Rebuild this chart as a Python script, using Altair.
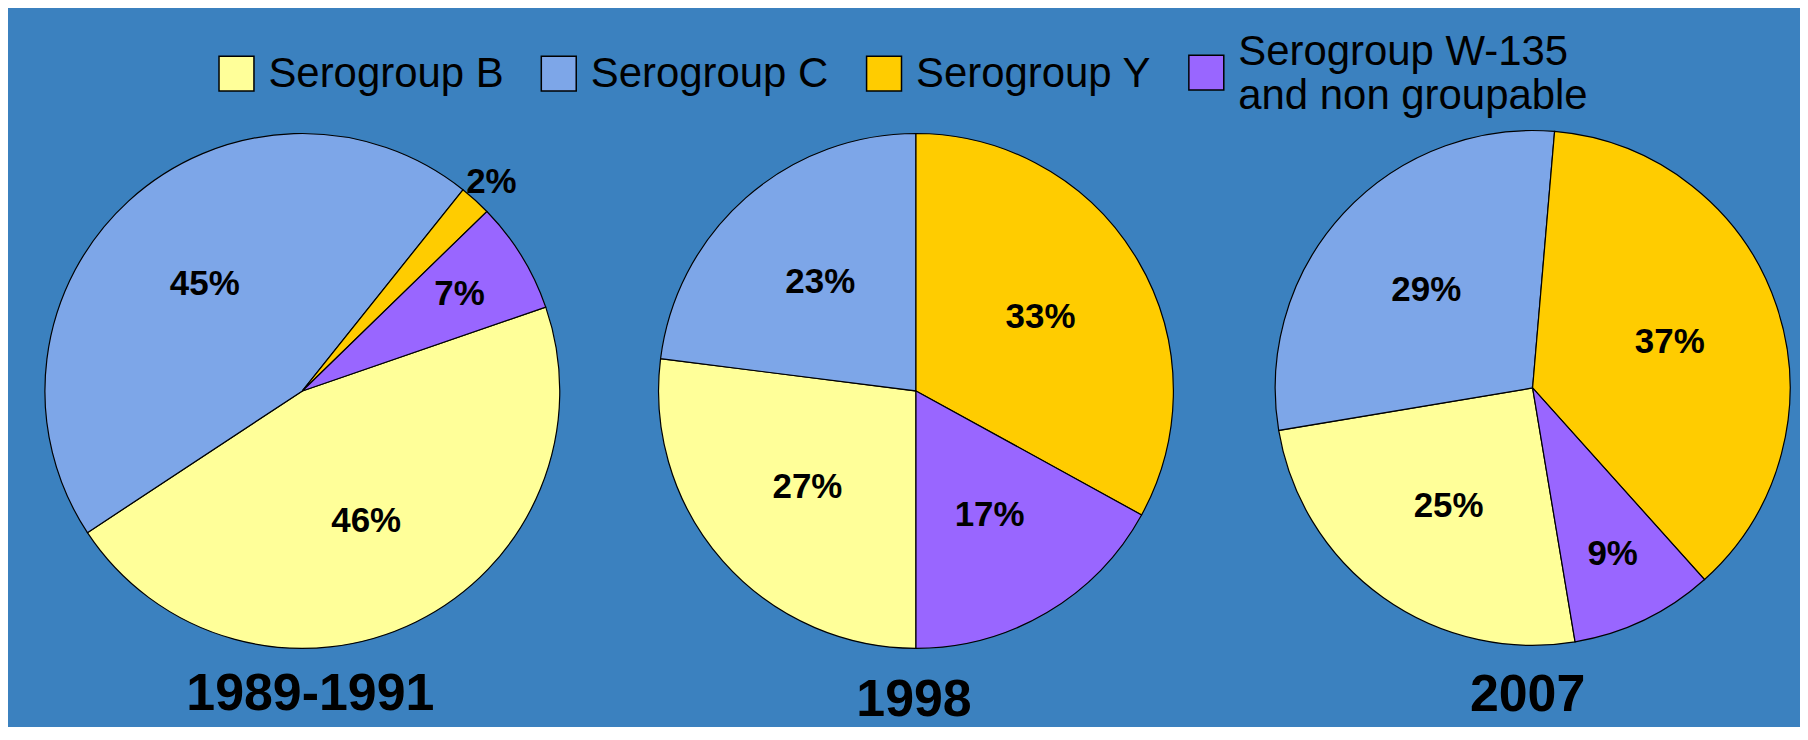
import math
import altair as alt
import pandas as pd

periods = ["1989-1991", "1998", "2007"]
groups = ["Serogroup B", "Serogroup C", "Serogroup Y", "Serogroup W-135|and non groupable"]
pct_1989_1991 = [46, 45, 2, 7]
pct_1998 = [27, 23, 33, 17]
pct_2007 = [25, 29, 37, 9]
colors = ["#FFFF99", "#7DA6E8", "#FFCC00", "#9966FF"]

rows = []
for p, vals in zip(periods, [pct_1989_1991, pct_1998, pct_2007]):
    for i, (g, v) in enumerate(zip(groups, vals)):
        rows.append({"period": p, "group": g, "pct": v, "order": i, "label": f"{v}%"})
df = pd.DataFrame(rows)

FONT = "Liberation Sans"
R = 258
PANEL_W, PANEL_H = 588, 712
# layout: (pie centre x, pie centre y, start angle deg, title x, title y)
layout = [
    (295, 383, 71.0, 303, 687),
    (308, 383, 180.0, 306, 693),
    (324, 380, 170.5, 319, 688),
]

# legend swatches: plain square, and a square moved down to sit beside a two-line label
SQ = "M-1,-1H1V1H-1Z"
SQ_LOW = "M-1,0.2H1V2.2H-1Z"

color_scale = alt.Scale(domain=groups, range=colors)
shape_scale = alt.Scale(domain=groups, range=[SQ, SQ, SQ, SQ_LOW])
stroke_scale = alt.Scale(domain=groups, range=["black"] * len(groups))
legend = alt.Legend(title=None, labelExpr="split(datum.label, '|')")


def panel(idx):
    p = periods[idx]
    cx, cy, a_deg, tx, ty = layout[idx]
    a0 = math.radians(a_deg)
    src = alt.Chart(df).transform_filter(alt.datum.period == p)
    # legend source, hidden under the pie
    swatch = src.mark_point(filled=True, size=1225, opacity=1, strokeWidth=1.5).encode(
        x=alt.value(cx), y=alt.value(cy),
        color=alt.Color("group:N", scale=color_scale, legend=legend),
        shape=alt.Shape("group:N", scale=shape_scale, legend=legend),
        stroke=alt.Stroke("group:N", scale=stroke_scale, legend=legend),
    )
    base = src.encode(
        theta=alt.Theta("pct:Q", stack=True, scale=alt.Scale(range=[a0, a0 + 2 * math.pi])),
        order=alt.Order("order:Q"),
        x=alt.value(cx),
        y=alt.value(cy),
    )
    arcs = base.mark_arc(radius=R, stroke="black", strokeWidth=1.2).encode(
        color=alt.Color("group:N", scale=color_scale, legend=legend)
    )
    txt = dict(font=FONT, fontSize=35, fontWeight="bold", color="black",
               align="center", baseline="middle")
    t_in = base.mark_text(radius=145, **txt).encode(
        text=alt.condition(alt.datum.pct >= 10, "label:N", alt.value(""))
    )
    t_mid = base.mark_text(radius=185, **txt).encode(
        text=alt.condition((alt.datum.pct >= 5) & (alt.datum.pct < 10), "label:N", alt.value(""))
    )
    t_out = base.mark_text(radius=282, **txt).encode(
        text=alt.condition(alt.datum.pct < 5, "label:N", alt.value(""))
    )
    title = alt.Chart(alt.Data(values=[{"t": p}])).mark_text(
        font=FONT, fontSize=52, fontWeight="bold", color="black",
        align="center", baseline="middle"
    ).encode(text="t:N", x=alt.value(tx), y=alt.value(ty))
    return alt.layer(swatch, arcs, t_in, t_mid, t_out, title).properties(width=PANEL_W, height=PANEL_H)


chart = alt.hconcat(panel(0), panel(1), panel(2), spacing=14).properties(
    padding=0
).configure(
    background="#3B81BF",
).configure_view(
    stroke=None
).configure_legend(
    orient="none",
    legendX=208,
    legendY=22,
    direction="horizontal",
    symbolSize=1225,
    symbolStrokeWidth=1.5,
    symbolOpacity=1,
    labelFont=FONT,
    labelFontSize=42,
    labelColor="black",
    labelLimit=1000,
    labelOffset=11,
    columnPadding=34,
)

chart.save("out.html", embed_options={"renderer": "svg", "actions": False})
